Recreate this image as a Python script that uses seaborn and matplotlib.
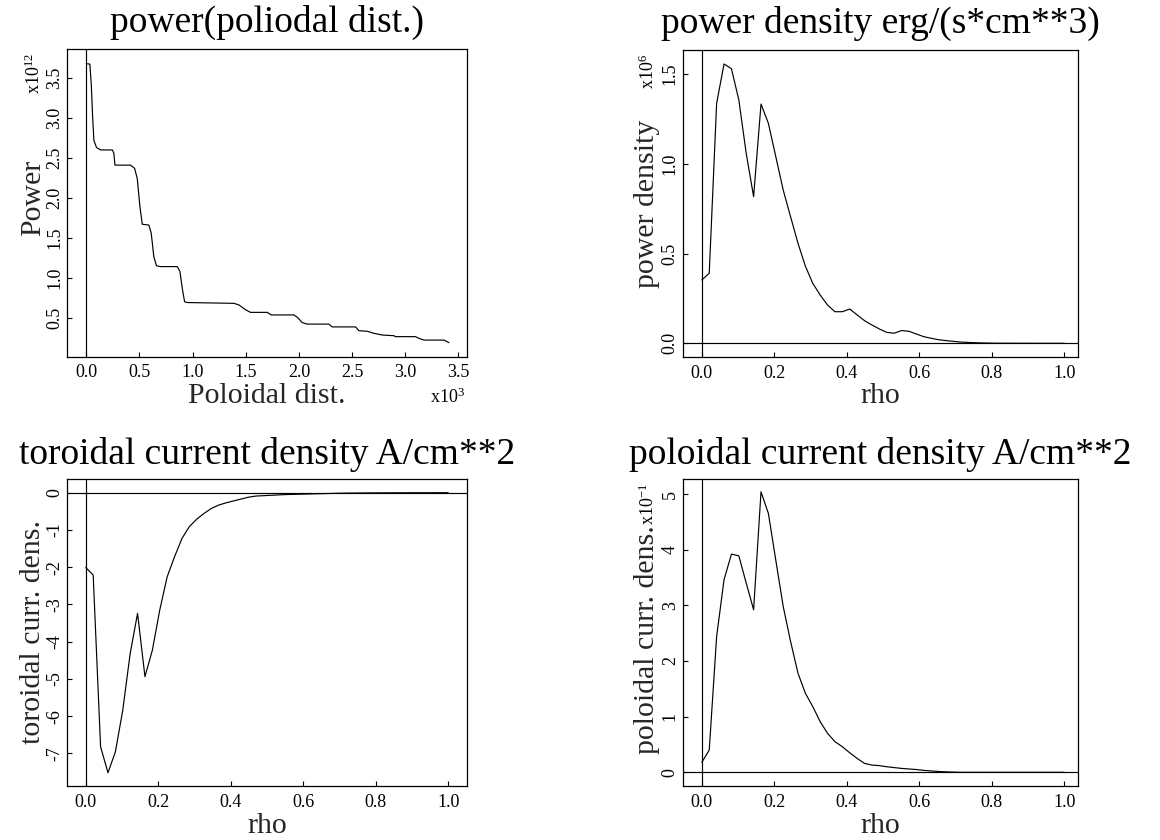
import numpy as np
import matplotlib
matplotlib.use("Agg")
import matplotlib.pyplot as plt
import seaborn as sns

# ---------------- data ----------------
# panel 1: power vs poloidal distance (x in 10^3, y in 10^12)
poloidal_dist = [0.0, 0.034, 0.047, 0.06, 0.072, 0.097, 0.135, 0.245, 0.26, 0.27,
                 0.417, 0.455, 0.48, 0.505, 0.527, 0.589, 0.611, 0.636, 0.661, 0.699,
                 0.856, 0.881, 0.903, 0.925, 0.95, 1.389, 1.436, 1.498, 1.545, 1.702,
                 1.74, 1.953, 1.99, 2.03, 2.078, 2.282, 2.313, 2.533, 2.564, 2.643,
                 2.705, 2.784, 2.893, 2.909, 3.097, 3.128, 3.176, 3.364, 3.411]
power = [3.68, 3.675, 3.43, 3.02, 2.72, 2.63, 2.60, 2.60, 2.56, 2.41,
         2.41, 2.37, 2.24, 1.89, 1.67, 1.66, 1.56, 1.26, 1.15, 1.14,
         1.14, 1.08, 0.87, 0.70, 0.69, 0.68, 0.66, 0.60, 0.567, 0.567,
         0.535, 0.535, 0.50, 0.44, 0.42, 0.42, 0.385, 0.385, 0.338, 0.33,
         0.305, 0.283, 0.275, 0.263, 0.263, 0.242, 0.22, 0.22, 0.188]

# radial grid
rho = np.linspace(0.0, 1.0, 50)

# panel 2: power density (x10^6)
power_density = [0.353, 0.39, 1.337, 1.556, 1.53, 1.356, 1.058, 0.817, 1.333, 1.225,
                 1.04, 0.854, 0.705, 0.557, 0.43, 0.334, 0.269, 0.213, 0.176, 0.176,
                 0.191, 0.158, 0.126, 0.102, 0.080, 0.061, 0.056, 0.071, 0.067, 0.052,
                 0.037, 0.028, 0.020, 0.015, 0.011, 0.007, 0.005, 0.003, 0.002, 0.001,
                 0.0005, 0.0004, 0.0003, 0.0002, 0.0001, 0.0, 0.0, 0.0, 0.0, 0.0]

# panel 3: toroidal current density
toroidal_cd = [-2.01, -2.21, -6.82, -7.52, -6.96, -5.84, -4.32, -3.24, -4.94, -4.23,
               -3.15, -2.26, -1.72, -1.23, -0.91, -0.71, -0.555, -0.42, -0.33, -0.27,
               -0.22, -0.17, -0.12, -0.09, -0.08, -0.07, -0.06, -0.05, -0.045, -0.04,
               -0.035, -0.03, -0.025, -0.02, -0.015, -0.012, -0.01, -0.008, -0.006, -0.005,
               -0.004, -0.003, -0.002, -0.002, -0.001, -0.001, -0.001, 0.0, 0.0, 0.0]

# panel 4: poloidal current density (x10^-1)
poloidal_cd = [0.18, 0.40, 2.44, 3.46, 3.92, 3.89, 3.40, 2.92, 5.04, 4.65,
               3.81, 2.98, 2.35, 1.78, 1.42, 1.18, 0.91, 0.70, 0.55, 0.46,
               0.35, 0.25, 0.16, 0.13, 0.12, 0.10, 0.085, 0.07, 0.06, 0.05,
               0.035, 0.025, 0.015, 0.008, 0.004, 0.0, 0.0, 0.0, 0.0, 0.0,
               0.0, 0.0, 0.0, 0.0, 0.0, 0.0, 0.0, 0.0, 0.0, 0.0]

titles = ["power(poliodal dist.)", "power density erg/(s*cm**3)",
          "toroidal current density A/cm**2", "poloidal current density A/cm**2"]
xlabels = ["Poloidal dist.", "rho", "rho", "rho"]
ylabels = ["Power", "power density", "toroidal curr. dens.", "poloidal curr. dens."]
exponents = ["x10$^{12}$", "x10$^{6}$", None, "x10$^{-1}$"]

p1_xticks = [0.0, 0.5, 1.0, 1.5, 2.0, 2.5, 3.0, 3.5]
p1_xticklabels = ["0.0", "0.5", "1.0", "1.5", "2.0", "2.5", "3.0", "3.5"]
p1_yticks = [0.5, 1.0, 1.5, 2.0, 2.5, 3.0, 3.5]
p1_yticklabels = ["0.5", "1.0", "1.5", "2.0", "2.5", "3.0", "3.5"]
rho_ticks = [0.0, 0.2, 0.4, 0.6, 0.8, 1.0]
rho_ticklabels = ["0.0", "0.2", "0.4", "0.6", "0.8", "1.0"]
p2_yticks = [0.0, 0.5, 1.0, 1.5]
p2_yticklabels = ["0.0", "0.5", "1.0", "1.5"]
p3_yticks = [0, -1, -2, -3, -4, -5, -6, -7]
p3_yticklabels = ["0", "-1", "-2", "-3", "-4", "-5", "-6", "-7"]
p4_yticks = [0, 1, 2, 3, 4, 5]
p4_yticklabels = ["0", "1", "2", "3", "4", "5"]

# ---------------- style ----------------
sns.set_style("ticks")
plt.rcParams.update({
    "axes.edgecolor": "black",
    "axes.linewidth": 0.9,
    "axes.unicode_minus": False,
    "mathtext.fontset": "custom",
    "mathtext.rm": "Liberation Serif",
    "mathtext.it": "Liberation Serif:italic",
    "mathtext.bf": "Liberation Serif:bold",
    "text.color": "black",
    "xtick.color": "black",
    "ytick.color": "black",
})
plt.rcParams["font.family"] = ["Liberation Serif", "DejaVu Serif"]

W, H = 1160, 840
fig = plt.figure(figsize=(W / 100, H / 100), dpi=100)
fig.patch.set_facecolor("white")

# panel boxes in pixels: (left, right, top, bottom)
boxes = [(67.3, 466.7, 49.3, 356.7), (683.0, 1078.0, 50.0, 357.3),
         (67.3, 466.7, 479.0, 786.0), (683.0, 1078.0, 479.0, 786.0)]
xlims = [(-0.178, 3.578), (-0.052, 1.038), (-0.051, 1.051), (-0.052, 1.038)]
ylims = [(0.012, 3.86), (-0.078, 1.634), (-7.876, 0.368), (-0.246, 5.27)]
title_pads = [12.5, 12.5, 10.5, 10.5]
xlabel_base = [403.0, 403.0, 833.0, 833.0]
ylabel_base_off = [27.5, 28.5, 27.5, 28.5]
ylabel_center = [0.516, 0.5, 0.5, 0.478]

xs = [poloidal_dist, rho, rho, rho]
ys = [power, power_density, toroidal_cd, poloidal_cd]
xticks = [p1_xticks, rho_ticks, rho_ticks, rho_ticks]
xticklabels = [p1_xticklabels, rho_ticklabels, rho_ticklabels, rho_ticklabels]
yticks = [p1_yticks, p2_yticks, p3_yticks, p4_yticks]
yticklabels = [p1_yticklabels, p2_yticklabels, p3_yticklabels, p4_yticklabels]

for k in range(4):
    L, R, T, B = boxes[k]
    ax = fig.add_axes([L / W, 1 - B / H, (R - L) / W, (B - T) / H])
    ax.set_facecolor("white")
    sns.lineplot(x=xs[k], y=ys[k], ax=ax, color="black", linewidth=0.85,
                 estimator=None, sort=False)
    ax.axvline(0, color="black", linewidth=0.85)
    if k > 0:
        ax.axhline(0, color="black", linewidth=0.85)
    ax.set_xlim(*xlims[k])
    ax.set_ylim(*ylims[k])
    ax.set_xticks(xticks[k])
    ax.set_xticklabels(xticklabels[k])
    ax.set_yticks(yticks[k])
    ax.set_yticklabels(yticklabels[k], rotation=90, va="center")
    ax.tick_params(direction="in", length=3.8, width=0.8, labelsize=13)
    ax.tick_params(axis="x", pad=5.5)
    ax.tick_params(axis="y", pad=3.0)
    for s in ax.spines.values():
        s.set_visible(True)
        s.set_color("black")
        s.set_linewidth(0.9)

    ax.set_title(titles[k], fontsize=27, pad=title_pads[k])

    ax.set_xlabel(xlabels[k], fontsize=21.5, va="baseline", ha="center")
    ax.xaxis.set_label_coords(0.5, (B - xlabel_base[k]) / (B - T))

    ax.set_ylabel(ylabels[k], fontsize=21.5, va="baseline", ha="center",
                  rotation=90, rotation_mode="anchor")
    ax.yaxis.set_label_coords(-ylabel_base_off[k] / (R - L), ylabel_center[k])

    if exponents[k] is not None:
        fig.text((L - ylabel_base_off[k]) / W, 1 - (T + 4.0) / H, exponents[k],
                 fontsize=13, rotation=90, rotation_mode="anchor",
                 ha="right", va="baseline")

# x-axis multiplier for panel 1
fig.text(465.5 / W, 1 - 403.0 / H, "x10$^{3}$", fontsize=13,
         ha="right", va="baseline")

fig.savefig("out.png", dpi=100, facecolor="white")
